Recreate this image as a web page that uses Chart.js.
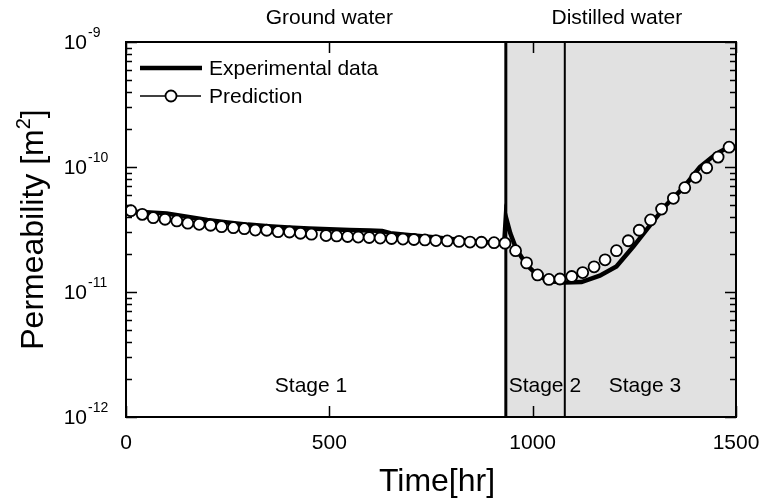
<!DOCTYPE html>
<html>
<head>
<meta charset="utf-8">
<script src="https://cdn.jsdelivr.net/npm/chart.js@4"></script>
<style>
  html, body { margin: 0; padding: 0; background: #fff; }
  #wrap { width: 777px; height: 502px; }
</style>
</head>
<body>
<div id="wrap"><canvas id="chart" width="777" height="502"></canvas></div>
<script>
// Experimental permeability (thick line)
const expTime = [0, 50, 100, 150, 200, 250, 300, 350, 400, 450, 500, 550, 600, 630, 650, 700, 750, 800, 850, 900, 930,
  934, 945, 960, 985, 1013, 1042, 1079, 1120, 1165, 1206, 1247, 1288, 1329, 1370, 1411, 1452, 1485];
const expPerm = [4.4e-11, 4.35e-11, 4.25e-11, 4.0e-11, 3.77e-11, 3.6e-11, 3.46e-11, 3.36e-11, 3.28e-11, 3.22e-11, 3.17e-11,
  3.13e-11, 3.1e-11, 3.08e-11, 2.95e-11, 2.85e-11, 2.75e-11, 2.65e-11, 2.56e-11, 2.48e-11, 2.45e-11,
  4.0e-11, 2.95e-11, 2.2e-11, 1.65e-11, 1.35e-11, 1.22e-11, 1.19e-11, 1.2e-11, 1.35e-11, 1.6e-11, 2.3e-11,
  3.4e-11, 5.0e-11, 6.8e-11, 1.0e-10, 1.28e-10, 1.46e-10];

// Model prediction (open circles)
const predTime = [12, 40, 67, 96, 125, 152, 180, 208, 235, 264, 291, 318, 346, 374, 402, 429, 456, 492, 518, 545, 571,
  598, 625, 653, 681, 708, 735, 762, 790, 819, 846, 874, 905, 932, 958, 985, 1012, 1040, 1067, 1096, 1123, 1151,
  1178, 1206, 1235, 1262, 1290, 1317, 1346, 1374, 1401, 1428, 1456, 1483];
const predPerm = [4.47e-11, 4.18e-11, 3.93e-11, 3.82e-11, 3.7e-11, 3.55e-11, 3.48e-11, 3.42e-11, 3.33e-11, 3.27e-11,
  3.21e-11, 3.13e-11, 3.12e-11, 3.04e-11, 3.02e-11, 2.95e-11, 2.9e-11, 2.83e-11, 2.81e-11, 2.78e-11, 2.75e-11,
  2.73e-11, 2.7e-11, 2.68e-11, 2.65e-11, 2.63e-11, 2.61e-11, 2.58e-11, 2.56e-11, 2.54e-11, 2.51e-11, 2.5e-11,
  2.48e-11, 2.46e-11, 2.14e-11, 1.71e-11, 1.37e-11, 1.26e-11, 1.27e-11, 1.33e-11, 1.43e-11, 1.59e-11,
  1.81e-11, 2.14e-11, 2.57e-11, 3.12e-11, 3.77e-11, 4.61e-11, 5.62e-11, 6.83e-11, 8.27e-11, 9.86e-11, 1.2e-10, 1.44e-10];

// Axis ticks
const xTicks = [0, 500, 1000, 1500];
const yExponents = [-12, -11, -10, -9];

// Stage boundaries (hr)
const stageBounds = [934, 1079];

const FONT = "'Liberation Sans', Arial, sans-serif";

const decorPlugin = {
  id: 'decor',
  beforeDatasetsDraw(chart) {
    const { ctx, chartArea: a, scales: { x } } = chart;
    const x1 = x.getPixelForValue(stageBounds[0]);
    const x2 = x.getPixelForValue(stageBounds[1]);
    ctx.save();
    ctx.fillStyle = '#e1e1e1';
    ctx.fillRect(x1, a.top, a.right - x1, a.bottom - a.top);
    ctx.strokeStyle = '#000';
    ctx.lineWidth = 3;
    ctx.beginPath(); ctx.moveTo(x1, a.top); ctx.lineTo(x1, a.bottom); ctx.stroke();
    ctx.lineWidth = 2;
    ctx.beginPath(); ctx.moveTo(x2, a.top); ctx.lineTo(x2, a.bottom); ctx.stroke();
    ctx.restore();
  },
  afterDraw(chart) {
    const { ctx, chartArea: a, scales: { x, y } } = chart;
    ctx.save();
    ctx.strokeStyle = '#000';
    ctx.fillStyle = '#000';

    // frame
    ctx.lineWidth = 2;
    ctx.strokeRect(a.left, a.top, a.right - a.left, a.bottom - a.top);

    // x ticks (inward, bottom and top)
    ctx.lineWidth = 1.5;
    xTicks.forEach(v => {
      const px = Math.round(x.getPixelForValue(v)) + 0.5;
      ctx.beginPath();
      ctx.moveTo(px, a.bottom); ctx.lineTo(px, a.bottom - 11);
      ctx.moveTo(px, a.top); ctx.lineTo(px, a.top + 11);
      ctx.stroke();
    });

    // y ticks, major and minor (inward, left and right)
    yExponents.forEach((e, i) => {
      for (let m = 1; m <= 9; m++) {
        if (m > 1 && i === yExponents.length - 1) break;
        const py = Math.round(y.getPixelForValue(m * Math.pow(10, e))) + 0.5;
        const len = m === 1 ? 11 : 6;
        ctx.beginPath();
        ctx.moveTo(a.left, py); ctx.lineTo(a.left + len, py);
        ctx.moveTo(a.right, py); ctx.lineTo(a.right - len, py);
        ctx.stroke();
      }
    });

    // x tick labels
    ctx.font = `21px ${FONT}`;
    ctx.textAlign = 'center';
    ctx.textBaseline = 'middle';
    xTicks.forEach(v => ctx.fillText(String(v), x.getPixelForValue(v), 443));

    // y tick labels 10^e
    yExponents.forEach(e => {
      const py = y.getPixelForValue(Math.pow(10, e));
      ctx.font = `21px ${FONT}`;
      ctx.textAlign = 'right';
      ctx.textBaseline = 'middle';
      ctx.fillText('10', 87, py + 1);
      ctx.font = `14px ${FONT}`;
      ctx.textAlign = 'left';
      ctx.fillText(String(e), 88, py - 9);
    });

    // axis titles
    ctx.font = `32px ${FONT}`;
    ctx.textAlign = 'center';
    ctx.textBaseline = 'middle';
    ctx.fillText('Time[hr]', 437, 482);
    ctx.save();
    ctx.translate(34, (a.top + a.bottom) / 2);
    ctx.rotate(-Math.PI / 2);
    const t1 = 'Permeability [m';
    const w1 = ctx.measureText(t1).width;
    ctx.font = `20px ${FONT}`;
    const w2 = ctx.measureText('2').width;
    ctx.font = `32px ${FONT}`;
    const w3 = ctx.measureText(']').width;
    const total = w1 + w2 + w3;
    ctx.textAlign = 'left';
    ctx.fillText(t1, -total / 2, 0);
    ctx.font = `20px ${FONT}`;
    ctx.fillText('2', -total / 2 + w1, -10);
    ctx.font = `32px ${FONT}`;
    ctx.fillText(']', -total / 2 + w1 + w2, 0);
    ctx.restore();

    // water and stage annotations
    ctx.font = `21px ${FONT}`;
    ctx.textAlign = 'center';
    ctx.fillText('Ground water', x.getPixelForValue(500), 18);
    ctx.fillText('Distilled water', x.getPixelForValue(1207), 18);
    ctx.fillText('Stage 1', x.getPixelForValue(455), 386);
    ctx.fillText('Stage 2', x.getPixelForValue(1030), 386);
    ctx.fillText('Stage 3', x.getPixelForValue(1276), 386);

    // legend
    ctx.lineWidth = 4.5;
    ctx.beginPath(); ctx.moveTo(140, 68); ctx.lineTo(202, 68); ctx.stroke();
    ctx.lineWidth = 1.5;
    ctx.beginPath(); ctx.moveTo(140, 96); ctx.lineTo(201, 96); ctx.stroke();
    ctx.fillStyle = '#fff';
    ctx.lineWidth = 1.8;
    ctx.beginPath(); ctx.arc(171, 96, 5.5, 0, Math.PI * 2); ctx.fill(); ctx.stroke();
    ctx.fillStyle = '#000';
    ctx.textAlign = 'left';
    ctx.fillText('Experimental data', 209, 69);
    ctx.fillText('Prediction', 209, 97);
    ctx.restore();
  }
};

new Chart(document.getElementById('chart'), {
  type: 'line',
  data: {
    datasets: [
      {
        label: 'Prediction',
        data: predTime.map((t, i) => ({ x: t, y: predPerm[i] })),
        showLine: false,
        pointRadius: 5.5,
        pointBackgroundColor: '#fff',
        pointBorderColor: '#000',
        pointBorderWidth: 1.8,
        order: 0
      },
      {
        label: 'Experimental data',
        data: expTime.map((t, i) => ({ x: t, y: expPerm[i] })),
        borderColor: '#000',
        borderWidth: 4.5,
        pointRadius: 0,
        tension: 0,
        order: 1
      }
    ]
  },
  options: {
    responsive: false,
    animation: false,
    layout: { padding: { left: 126, right: 41, top: 42, bottom: 85 } },
    plugins: { legend: { display: false }, tooltip: { enabled: false } },
    scales: {
      x: { type: 'linear', min: 0, max: 1500, display: false },
      y: { type: 'logarithmic', min: 1e-12, max: 1e-9, display: false }
    }
  },
  plugins: [decorPlugin]
});
</script>
</body>
</html>
